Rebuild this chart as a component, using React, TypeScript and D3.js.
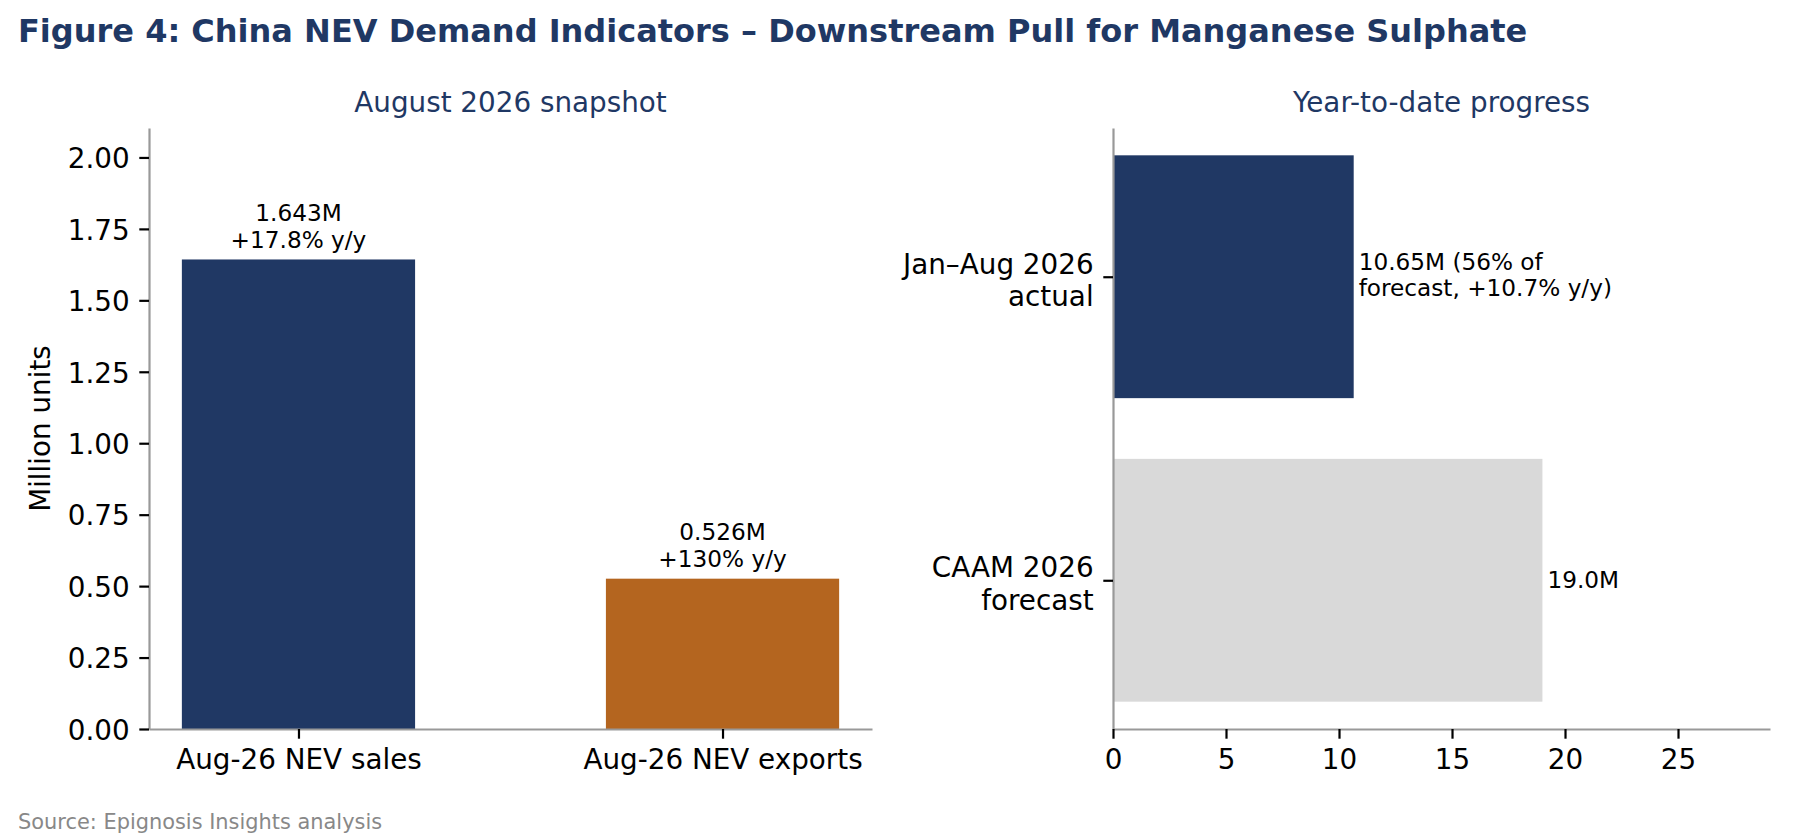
import { useEffect, useRef } from 'react';
import * as d3 from 'd3';

const snapshotCategories = ['Aug-26 NEV sales', 'Aug-26 NEV exports'];
const snapshotValues = [1.643, 0.526];
const snapshotLabels = [
  ['1.643M', '+17.8% y/y'],
  ['0.526M', '+130% y/y'],
];
const snapshotColors = ['#203864', '#b4651f'];
const snapshotTicks = [0, 0.25, 0.5, 0.75, 1.0, 1.25, 1.5, 1.75, 2.0];

const ytdCategories = [
  ['Jan–Aug 2026', 'actual'],
  ['CAAM 2026', 'forecast'],
];
const ytdValues = [10.65, 19.0];
const ytdLabels = [['10.65M (56% of', 'forecast, +10.7% y/y)'], ['19.0M']];
const ytdColors = ['#203864', '#d9d9d9'];
const ytdTicks = [0, 5, 10, 15, 20, 25];

const W = 1800;
const H = 840;
const FONT = '"DejaVu Sans", sans-serif';
const NAVY = '#1f3864';
const SPINE = '#999999';
const TICK_LEN = 9.7;
const TICK_FS = 27.8;
const LABEL_FS = 23.2;

const App = () => {
  const svgRef = useRef<SVGSVGElement>(null!);

  useEffect(() => {
    document.body.style.margin = '0';
    const svg = d3.select(svgRef.current);
    svg.selectAll('*').remove();
    svg.attr('width', W).attr('height', H).style('background', '#fff');

    const top = 128;
    const bottom = 729;

    // ---------- left panel: August snapshot ----------
    const lx = d3.scaleLinear().domain([-0.3525, 1.3525]).range([149, 872]);
    const ly = d3.scaleLinear().domain([0, 1.643 * 1.28]).range([bottom, top]);
    const barW = 0.55;

    const left = svg.append('g');
    left
      .selectAll('rect')
      .data(snapshotValues)
      .enter()
      .append('rect')
      .attr('x', (_, i) => lx(i - barW / 2))
      .attr('width', (_, i) => lx(i + barW / 2) - lx(i - barW / 2))
      .attr('y', d => ly(d))
      .attr('height', d => ly(0) - ly(d))
      .attr('fill', (_, i) => snapshotColors[i]);

    snapshotValues.forEach((v, i) => {
      const base = ly(v + 0.02) - 5.5;
      const t = left
        .append('text')
        .attr('text-anchor', 'middle')
        .attr('font-family', FONT)
        .attr('font-size', LABEL_FS)
        .attr('fill', '#000');
      snapshotLabels[i].forEach((line, k) => {
        t.append('tspan')
          .attr('x', lx(i))
          .attr('y', base - (snapshotLabels[i].length - 1 - k) * 27.5)
          .text(line);
      });
    });

    const lyAxis = left
      .append('g')
      .attr('transform', `translate(${lx(-0.3525)},0)`)
      .call(
        d3
          .axisLeft(ly)
          .tickValues(snapshotTicks)
          .tickFormat(d3.format('.2f'))
          .tickSize(TICK_LEN)
          .tickSizeOuter(0)
          .tickPadding(TICK_LEN)
      );
    const lxAxis = left
      .append('g')
      .attr('transform', `translate(0,${bottom})`)
      .call(
        d3
          .axisBottom(d3.scaleLinear().domain(lx.domain()).range(lx.range()))
          .tickValues([0, 1])
          .tickFormat((d, i) => snapshotCategories[i])
          .tickSize(TICK_LEN)
          .tickSizeOuter(0)
          .tickPadding(TICK_LEN)
      );

    left
      .append('text')
      .attr('x', (149 + 872) / 2)
      .attr('y', 111.7)
      .attr('text-anchor', 'middle')
      .attr('font-family', FONT)
      .attr('font-size', TICK_FS)
      .attr('fill', NAVY)
      .text('August 2026 snapshot');

    left
      .append('text')
      .attr('transform', `translate(50,${(top + bottom) / 2}) rotate(-90)`)
      .attr('text-anchor', 'middle')
      .attr('font-family', FONT)
      .attr('font-size', TICK_FS)
      .attr('fill', '#000')
      .text('Million units');

    // ---------- right panel: YTD progress ----------
    const rx = d3.scaleLinear().domain([0, 19.0 * 1.53]).range([1113, 1770]);
    const ry = d3.scaleLinear().domain([-0.49, 1.49]).range([top, bottom]);
    const barH = 0.8;

    const right = svg.append('g');
    right
      .selectAll('rect')
      .data(ytdValues)
      .enter()
      .append('rect')
      .attr('x', rx(0))
      .attr('width', d => rx(d) - rx(0))
      .attr('y', (_, i) => ry(i - barH / 2))
      .attr('height', (_, i) => ry(i + barH / 2) - ry(i - barH / 2))
      .attr('fill', (_, i) => ytdColors[i]);

    ytdValues.forEach((v, i) => {
      const lines = ytdLabels[i];
      const first = lines.length > 1 ? ry(i) - 6.6 : ry(i) + 8;
      const t = right
        .append('text')
        .attr('font-family', FONT)
        .attr('font-size', LABEL_FS)
        .attr('fill', '#000');
      lines.forEach((line, k) => {
        t.append('tspan')
          .attr('x', rx(v + 0.22))
          .attr('y', first + k * 25.5)
          .text(line);
      });
    });

    const ryAxis = right
      .append('g')
      .attr('transform', `translate(${rx(0)},0)`)
      .call(
        d3
          .axisLeft(ry)
          .tickValues([0, 1])
          .tickFormat(() => '')
          .tickSize(TICK_LEN)
          .tickSizeOuter(0)
      );
    ryAxis.selectAll('.tick').each(function (d) {
      const i = d as number;
      const t = d3
        .select(this)
        .select('text')
        .attr('dy', null)
        .attr('x', null);
      ytdCategories[i].forEach((line, k) => {
        t.append('tspan')
          .attr('x', -TICK_LEN * 2)
          .attr('y', -3.4 + k * 32.5)
          .text(line);
      });
    });

    const rxAxis = right
      .append('g')
      .attr('transform', `translate(0,${bottom})`)
      .call(
        d3
          .axisBottom(rx)
          .tickValues(ytdTicks)
          .tickFormat(d3.format('d'))
          .tickSize(TICK_LEN)
          .tickSizeOuter(0)
          .tickPadding(TICK_LEN)
      );

    right
      .append('text')
      .attr('x', (1113 + 1770) / 2)
      .attr('y', 111.7)
      .attr('text-anchor', 'middle')
      .attr('font-family', FONT)
      .attr('font-size', TICK_FS)
      .attr('fill', NAVY)
      .text('Year-to-date progress');

    // common axis styling
    [lyAxis, lxAxis, ryAxis, rxAxis].forEach(ax => {
      ax.select('.domain').attr('stroke', SPINE).attr('stroke-width', 2.2);
      ax.selectAll('.tick line').attr('stroke', '#000').attr('stroke-width', 2.2);
      ax.selectAll('.tick text')
        .attr('font-family', FONT)
        .attr('font-size', TICK_FS)
        .attr('fill', '#000');
      ax.attr('font-family', null).attr('font-size', null);
    });
    // baseline placement like matplotlib
    lyAxis.selectAll('.tick text').attr('dy', null).attr('y', 10.3);
    [lxAxis, rxAxis].forEach(ax => ax.selectAll('.tick text').attr('dy', null).attr('y', 40));

    // ---------- figure texts ----------
    svg
      .append('text')
      .attr('x', 18)
      .attr('y', 41.7)
      .attr('font-family', FONT)
      .attr('font-weight', 'bold')
      .attr('font-size', 32)
      .attr('fill', NAVY)
      .text('Figure 4: China NEV Demand Indicators – Downstream Pull for Manganese Sulphate');

    svg
      .append('text')
      .attr('x', 18)
      .attr('y', 829.3)
      .attr('font-family', FONT)
      .attr('font-size', 20.9)
      .attr('fill', '#888888')
      .text('Source: Epignosis Insights analysis');

    return () => {
      svgRef.current.innerHTML = '';
    };
  }, []);

  return <svg ref={svgRef} style={{ display: 'block' }}></svg>;
};

export default App;
